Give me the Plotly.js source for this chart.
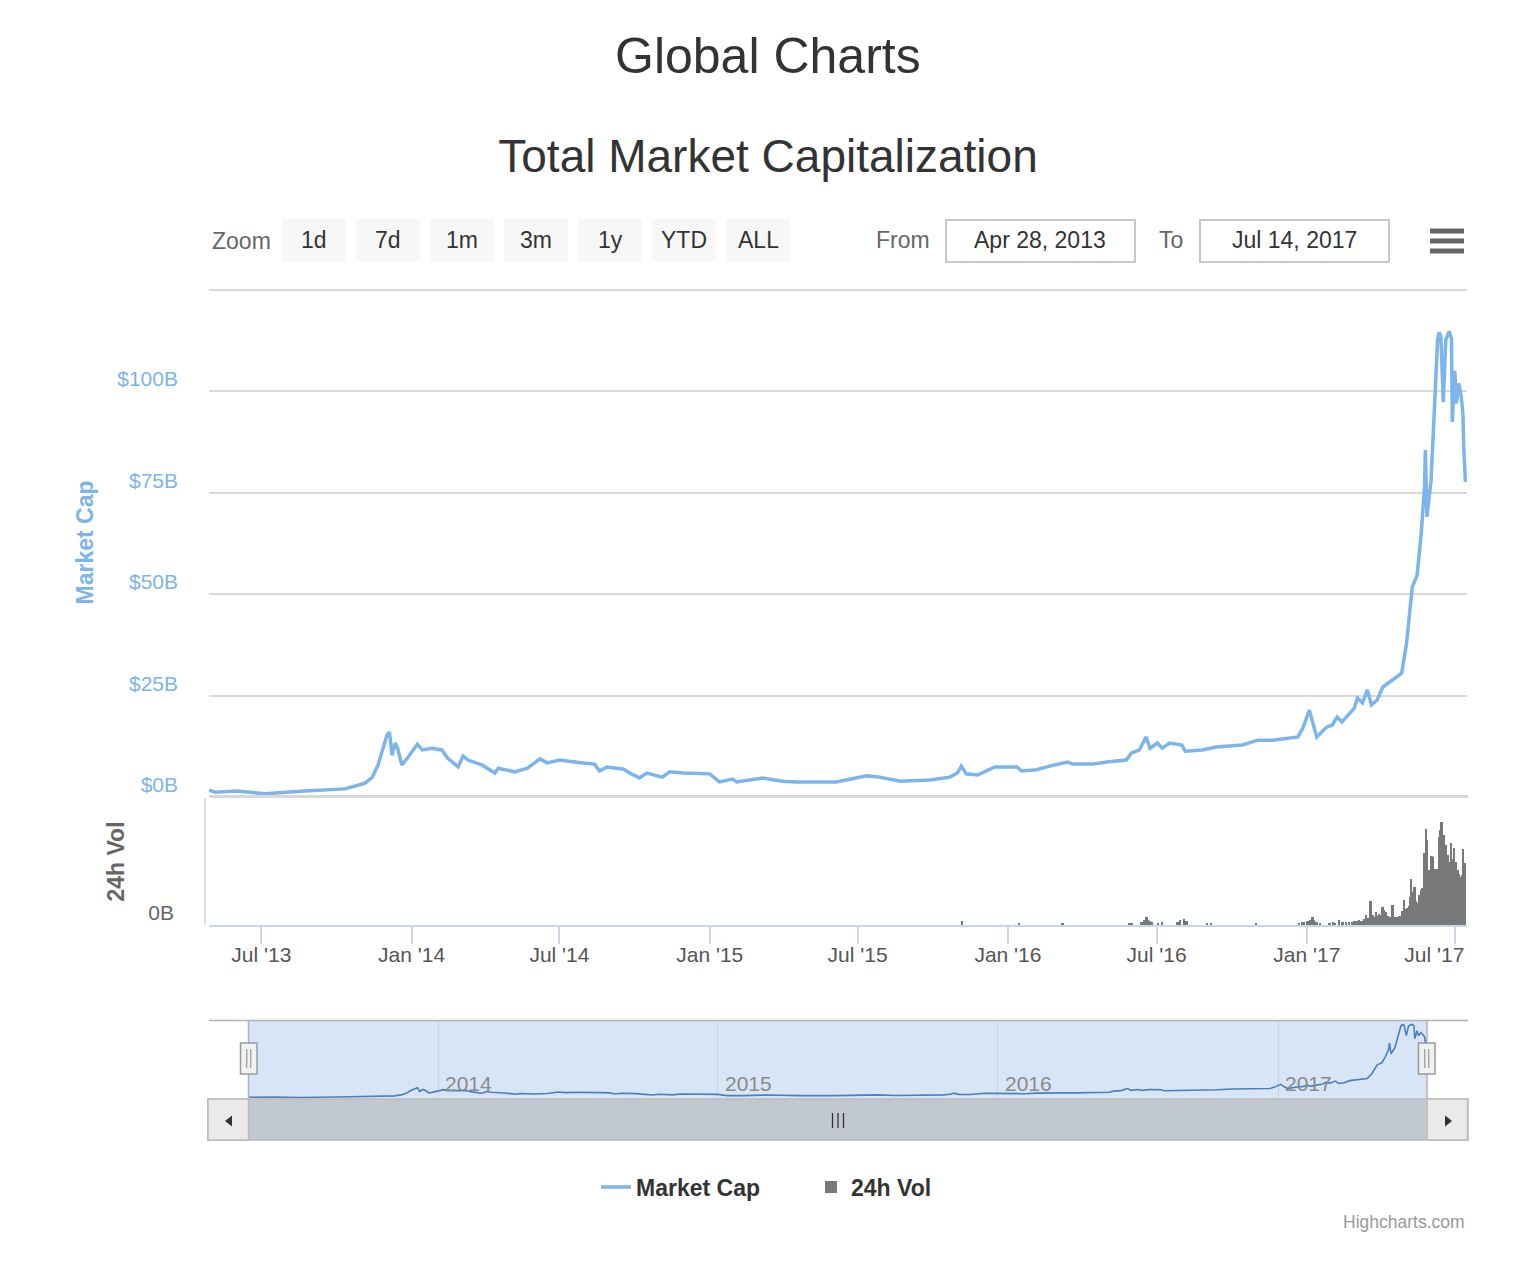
<!DOCTYPE html>
<html>
<head>
<meta charset="utf-8">
<script src="https://cdn.plot.ly/plotly-3.0.1.min.js"></script>
<style>
  html, body { margin: 0; padding: 0; background: #ffffff; }
  #chart { width: 1536px; height: 1280px; }
</style>
</head>
<body>
<div id="chart"></div>
<script>
// ---------------- DATA ----------------
const mcDates = [
  '2013-04-28','2013-05-06','2013-05-31','2013-07-06','2013-08-23','2013-10-11','2013-10-24','2013-11-05',
  '2013-11-14','2013-11-21','2013-11-27','2013-12-02','2013-12-05','2013-12-08','2013-12-12','2013-12-15',
  '2013-12-20','2013-12-27','2014-01-08','2014-01-14','2014-01-26','2014-02-07','2014-02-14','2014-02-27',
  '2014-03-05','2014-03-11','2014-03-28','2014-04-13','2014-04-17','2014-05-07','2014-05-23','2014-06-01',
  '2014-06-07','2014-06-16','2014-07-01','2014-07-30','2014-08-13','2014-08-19','2014-08-28','2014-09-17',
  '2014-09-25','2014-10-07','2014-10-16','2014-11-04','2014-11-13','2014-11-29','2015-01-01','2015-01-13',
  '2015-01-29','2015-02-03','2015-03-07','2015-03-31','2015-04-17','2015-06-05','2015-07-12','2015-07-28',
  '2015-08-22','2015-09-27','2015-10-22','2015-10-31','2015-11-05','2015-11-11','2015-11-25','2015-12-16',
  '2016-01-12','2016-01-18','2016-02-05','2016-02-21','2016-03-14','2016-03-20','2016-04-14','2016-05-01',
  '2016-05-25','2016-05-31','2016-06-10','2016-06-18','2016-06-23','2016-07-02','2016-07-08','2016-07-17',
  '2016-08-01','2016-08-05','2016-08-26','2016-09-12','2016-10-14','2016-11-02','2016-11-20','2016-12-21',
  '2016-12-27','2017-01-04','2017-01-08','2017-01-13','2017-01-25','2017-02-01','2017-02-07','2017-02-13',
  '2017-02-28','2017-03-04','2017-03-10','2017-03-16','2017-03-21','2017-03-28','2017-04-04','2017-04-21',
  '2017-04-27','2017-05-03','2017-05-07','2017-05-10','2017-05-16','2017-05-21','2017-05-25','2017-05-26',
  '2017-05-28','2017-06-02','2017-06-07','2017-06-10','2017-06-12','2017-06-14','2017-06-17','2017-06-20',
  '2017-06-24','2017-06-27','2017-06-28','2017-07-01','2017-07-03','2017-07-06','2017-07-09','2017-07-11',
  '2017-07-12','2017-07-13','2017-07-14'
];
const mcValues = [
  1.7,1.2,1.5,0.8,1.5,2.0,2.7,3.4,
  4.9,7.9,12.0,15.3,16.0,10.3,13.3,12.0,
  7.9,9.6,13.0,11.6,12.0,11.6,9.6,7.4,
  10.1,9.1,7.9,5.9,7.1,6.2,7.1,8.6,
  9.4,8.4,9.1,8.4,8.1,6.4,7.4,6.9,
  5.9,4.7,5.9,4.9,6.2,5.9,5.7,3.7,
  4.4,3.7,4.7,3.9,3.7,3.7,5.2,4.9,
  3.9,4.2,4.9,5.9,7.6,5.7,5.4,7.4,
  7.4,6.4,6.7,7.6,8.6,8.1,8.1,8.6,
  9.1,10.8,11.6,14.8,12.0,13.3,12.0,13.3,
  12.8,11.3,11.6,12.3,12.8,14.0,14.0,14.8,
  17.0,21.4,18.2,14.8,17.2,17.7,19.7,18.5,
  21.9,24.4,23.2,26.4,22.7,23.9,27.1,29.6,
  30.5,37.9,45.3,51.7,54.7,65.0,76.4,85.5,
  69.0,78.0,99.5,112.6,114.5,113.5,97.3,112.6,
  114.7,113.0,92.4,105.0,97.0,101.9,98.6,94.5,
  86.2,81.3,77.6
];

const volDates = [
  '2015-11-06','2016-01-15','2016-03-08','2016-05-29','2016-06-01','2016-06-13','2016-06-16','2016-06-19',
  '2016-06-21','2016-06-23','2016-06-26','2016-07-03','2016-07-08','2016-07-27','2016-07-30','2016-08-04',
  '2016-08-07','2016-09-01','2016-09-06','2016-10-31','2016-12-23','2016-12-27','2016-12-29','2017-01-02',
  '2017-01-05','2017-01-08','2017-01-10','2017-01-13','2017-01-17','2017-01-29','2017-02-02','2017-02-05',
  '2017-02-10','2017-02-14','2017-02-18','2017-02-22','2017-02-26','2017-02-28','2017-03-03','2017-03-06',
  '2017-03-08','2017-03-10','2017-03-13','2017-03-15','2017-03-17','2017-03-20','2017-03-23','2017-03-25',
  '2017-03-27','2017-03-29','2017-03-31','2017-04-02','2017-04-04','2017-04-06','2017-04-08','2017-04-10',
  '2017-04-12','2017-04-14','2017-04-16','2017-04-18','2017-04-20','2017-04-22','2017-04-24','2017-04-26',
  '2017-04-28','2017-04-30','2017-05-02','2017-05-04','2017-05-06','2017-05-08','2017-05-09','2017-05-11',
  '2017-05-13','2017-05-15','2017-05-17','2017-05-19','2017-05-21','2017-05-23','2017-05-25','2017-05-26',
  '2017-05-27','2017-05-28','2017-05-30','2017-06-01','2017-06-02','2017-06-03','2017-06-05','2017-06-07',
  '2017-06-08','2017-06-10','2017-06-12','2017-06-13','2017-06-14','2017-06-15','2017-06-16','2017-06-18',
  '2017-06-19','2017-06-20','2017-06-21','2017-06-23','2017-06-24','2017-06-26','2017-06-27','2017-06-28',
  '2017-06-30','2017-07-01','2017-07-02','2017-07-03','2017-07-05','2017-07-06','2017-07-08','2017-07-10',
  '2017-07-11','2017-07-12','2017-07-13','2017-07-14'
];
const volValues = [
  0.14,0.05,0.05,0.08,0.08,0.12,0.20,0.31,
  0.20,0.16,0.12,0.08,0.10,0.12,0.20,0.24,
  0.16,0.08,0.08,0.05,0.08,0.10,0.12,0.16,
  0.20,0.31,0.20,0.12,0.08,0.08,0.12,0.08,
  0.20,0.12,0.10,0.12,0.12,0.16,0.16,0.20,
  0.14,0.16,0.24,0.39,0.28,0.94,0.39,0.30,
  0.51,0.35,0.43,0.40,0.71,0.59,0.51,0.35,
  0.31,0.31,0.79,0.31,0.31,0.31,0.35,0.35,
  0.55,0.98,0.63,0.67,0.75,1.10,1.81,1.30,
  1.50,0.95,0.87,1.18,1.38,1.46,2.83,2.20,
  3.78,3.35,2.17,2.00,1.97,2.72,2.68,2.20,
  2.17,2.20,3.46,2.80,3.74,4.06,3.30,3.54,
  2.95,2.60,3.15,2.76,2.50,2.36,3.23,2.60,
  3.03,2.40,2.17,2.48,2.17,2.00,1.89,1.97,
  2.99,2.10,2.30,2.44
];

const xTickDates  = ['2013-07-01','2014-01-01','2014-07-01','2015-01-01','2015-07-01','2016-01-01','2016-07-01','2017-01-01','2017-07-01'];
const xTickLabels = ["Jul '13","Jan '14","Jul '14","Jan '15","Jul '15","Jan '16","Jul '16","Jan '17","Jul '17"];
const capTickVals   = [0, 25, 50, 75, 100, 125];
const capTickLabels = ['$0B','$25B','$50B','$75B','$100B',''];
const navYears = ['2014','2015','2016','2017'];
const zoomButtons = ['1d','7d','1m','3m','1y','YTD','ALL'];
const fromDate = 'Apr 28, 2013';
const toDate = 'Jul 14, 2017';

// ---------------- LAYOUT HELPERS ----------------
const W = 1536, H = 1280;
const px = x => x / W;
const py = y => 1 - y / H;
const FONT = 'Liberation Sans, Arial, Helvetica, sans-serif';

function rect(x0, y0, x1, y1, fill, lineColor, lineWidth, layer) {
  return { type: 'rect', xref: 'paper', yref: 'paper',
    x0: px(x0), x1: px(x1), y0: py(y1), y1: py(y0),
    fillcolor: fill, line: { color: lineColor || fill, width: lineWidth || 0 }, layer: layer || 'above' };
}
function hline(x0, x1, y, color, width) {
  return { type: 'line', xref: 'paper', yref: 'paper', x0: px(x0), x1: px(x1), y0: py(y), y1: py(y),
    line: { color: color, width: width } };
}
function vline(x, y0, y1, color, width) {
  return { type: 'line', xref: 'paper', yref: 'paper', x0: px(x), x1: px(x), y0: py(y0), y1: py(y1),
    line: { color: color, width: width } };
}
function tri(pts, color) {
  const p = pts.map((q, i) => (i ? 'L' : 'M') + px(q[0]) + ',' + py(q[1])).join(' ') + ' Z';
  return { type: 'path', xref: 'paper', yref: 'paper', path: p, fillcolor: color, line: { color: color, width: 0 } };
}
function label(x, y, text, size, color, xanchor, extra) {
  return Object.assign({ xref: 'paper', yref: 'paper', x: px(x), y: py(y), text: text, showarrow: false,
    xanchor: xanchor || 'center', yanchor: 'middle', font: { family: FONT, size: size, color: color } }, extra || {});
}

const shapes = [];
const annotations = [];

// page heading
annotations.push(label(768, 56, 'Global Charts', 50, '#333333'));

// range selector
annotations.push(label(210, 241, 'Zoom', 23, '#666666', 'left'));
const btnLeft = [282, 356, 430, 504, 578, 652, 726];
zoomButtons.forEach((b, i) => {
  shapes.push(rect(btnLeft[i], 219, btnLeft[i] + 64, 262, '#f7f7f7'));
  annotations.push(label(btnLeft[i] + 32, 240, b, 23, '#333333'));
});
annotations.push(label(903, 240, 'From', 23, '#666666'));
shapes.push(rect(946, 220, 1135, 262, '#ffffff', '#c8c8c8', 2));
annotations.push(label(1040, 240, fromDate, 23, '#333333'));
annotations.push(label(1171, 240, 'To', 23, '#666666'));
shapes.push(rect(1200, 220, 1389, 262, '#ffffff', '#c8c8c8', 2));
annotations.push(label(1294, 240, toDate, 23, '#333333'));
[231, 241, 251].forEach(y => shapes.push(rect(1430, y - 2.5, 1464, y + 2.5, '#666666')));

// main panel bottom border and volume panel left line
shapes.push(hline(209, 1468, 796.5, '#d8d8d8', 3));
shapes.push(vline(205, 798, 925, '#ccd6eb', 1.5));

// navigator
shapes.push(rect(248, 1021, 1427, 1099, '#d8e5f6', null, 0, 'below'));
shapes.push(hline(209, 1468, 1020.5, '#b3b3b3', 1.5));
shapes.push(vline(248.5, 1020.5, 1099, '#b3b3b3', 1.5));
shapes.push(vline(1427, 1020.5, 1099, '#b3b3b3', 1.5));
navYears.forEach(yr => {
  annotations.push({ xref: 'x2', yref: 'paper', x: yr + '-01-01', y: py(1083), text: yr, showarrow: false,
    xanchor: 'left', yanchor: 'middle', xshift: 5, font: { family: FONT, size: 21, color: '#8a8a8a' } });
});
// scrollbar
shapes.push(rect(208, 1099, 1468, 1140, '#c1c8d2', '#bbbbbb', 1.5));
shapes.push(rect(208, 1099, 248.5, 1140, '#ebe9ea', '#bbbbbb', 1.5));
shapes.push(rect(1427, 1099, 1467.5, 1140, '#ebe9ea', '#bbbbbb', 1.5));
shapes.push(tri([[225, 1121], [232, 1115.5], [232, 1126.5]], '#333333'));
shapes.push(tri([[1452, 1121], [1445, 1115.5], [1445, 1126.5]], '#333333'));
[832.5, 838, 843.5].forEach(x => shapes.push(vline(x, 1113, 1128, '#333333', 1.3)));
// handles
[[240.5, 257], [1418.5, 1435]].forEach(h => {
  shapes.push(rect(h[0], 1043, h[1], 1074, '#f2f2f2', '#999999', 1.5));
  const c = (h[0] + h[1]) / 2;
  shapes.push(vline(c - 2, 1049, 1068, '#999999', 1.2));
  shapes.push(vline(c + 2, 1049, 1068, '#999999', 1.2));
});

// credits
annotations.push(label(1467, 1222, 'Highcharts.com', 17.5, '#999999', 'right'));

// ---------------- TRACES ----------------
const DAY = 86400000;
const traces = [
  { x: mcDates, y: mcValues, type: 'scatter', mode: 'lines', name: 'Market Cap',
    line: { color: '#7cb5ec', width: 3.5 }, xaxis: 'x', yaxis: 'y', hoverinfo: 'skip' },
  { x: volDates, y: volValues, type: 'bar', name: '24h Vol', width: DAY * 2.2,
    marker: { color: '#787878', line: { width: 0 } }, xaxis: 'x', yaxis: 'y2', hoverinfo: 'skip' },
  { x: mcDates, y: mcValues, type: 'scatter', mode: 'lines', name: 'navigator', showlegend: false,
    line: { color: '#4a7ebf', width: 1.6 }, xaxis: 'x2', yaxis: 'y3', hoverinfo: 'skip' }
];

const lastIdx = xTickLabels.length - 1;
const xTickText = xTickLabels.map((t, i) => i === lastIdx ? t + '\u00a0'.repeat(7) : t);

const layout = {
  width: W, height: H,
  margin: { l: 0, r: 0, t: 0, b: 0 },
  paper_bgcolor: '#ffffff', plot_bgcolor: 'rgba(0,0,0,0)',
  font: { family: FONT, color: '#333333' },
  title: { text: 'Total Market Capitalization', x: 0.5, xanchor: 'center', y: py(156), yanchor: 'middle',
    font: { family: FONT, size: 46, color: '#333333' } },
  showlegend: true,
  legend: { orientation: 'h', x: px(596), xanchor: 'left', y: py(1187), yanchor: 'middle', entrywidth: 170,
    font: { family: FONT, size: 23, color: '#333333', weight: 'bold' }, bgcolor: 'rgba(0,0,0,0)' },
  bargap: 0,
  xaxis: {
    type: 'date', domain: [px(209), px(1467)], range: ['2013-04-28', '2017-07-16'], anchor: 'y2',
    tickmode: 'array', tickvals: xTickDates, ticktext: xTickText,
    ticks: 'outside', ticklen: 17, tickwidth: 1.5, tickcolor: '#ccd6eb', ticklabelstandoff: -7,
    showline: true, linecolor: '#ccd6eb', linewidth: 1.5, showgrid: false, zeroline: false,
    tickfont: { family: FONT, size: 21, color: '#555555' }, fixedrange: true
  },
  yaxis: {
    domain: [py(797), py(288)], range: [0, 125.4], anchor: 'x',
    tickmode: 'array', tickvals: capTickVals, ticktext: capTickLabels,
    showgrid: true, gridcolor: '#d9d9d9', gridwidth: 2, zeroline: false, showline: false, ticks: '',
    tickfont: { family: FONT, size: 21, color: '#7cb5ec' }, ticklabelshift: -12, ticklabelstandoff: 30,
    title: { text: 'Market Cap', standoff: 17, font: { family: FONT, size: 23, color: '#7cb5ec', weight: 'bold' } },
    fixedrange: true
  },
  yaxis2: {
    domain: [py(925), py(798)], range: [0, 5], anchor: 'x',
    tickmode: 'array', tickvals: [0], ticktext: ['0B'],
    showgrid: false, zeroline: false, showline: false, ticks: '',
    tickfont: { family: FONT, size: 21, color: '#666666' }, ticklabelshift: -12, ticklabelstandoff: 34,
    title: { text: '24h Vol', standoff: 17, font: { family: FONT, size: 23, color: '#666666', weight: 'bold' } },
    fixedrange: true
  },
  xaxis2: {
    type: 'date', domain: [px(248), px(1427)], range: ['2013-04-28', '2017-07-14'], anchor: 'y3',
    tickmode: 'array', tickvals: navYears.map(y => y + '-01-01'), showticklabels: false, ticks: '',
    showgrid: true, gridcolor: '#c6d3e4', gridwidth: 1, zeroline: false, showline: false, fixedrange: true
  },
  yaxis3: {
    domain: [py(1099), py(1021)], range: [-1.5, 120], anchor: 'x2', visible: false, fixedrange: true
  },
  shapes: shapes,
  annotations: annotations
};

Plotly.newPlot('chart', traces, layout, { displayModeBar: false, responsive: false });
</script>
</body>
</html>
